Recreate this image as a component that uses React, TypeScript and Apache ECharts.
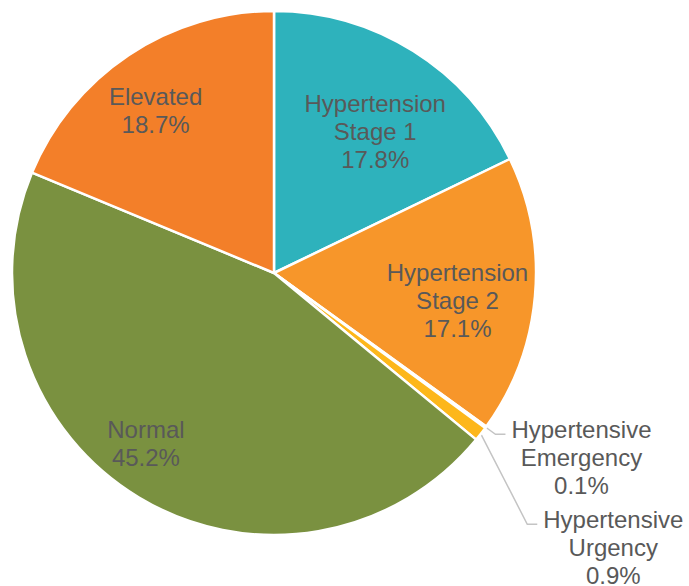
import React, { useEffect, useRef } from "react";
import * as echarts from "echarts";

const categories = [
  "Hypertension Stage 1",
  "Hypertension Stage 2",
  "Hypertensive Emergency",
  "Hypertensive Urgency",
  "Normal",
  "Elevated",
];
const labelLines = [
  ["Hypertension", "Stage 1"],
  ["Hypertension", "Stage 2"],
  ["Hypertensive", "Emergency"],
  ["Hypertensive", "Urgency"],
  ["Normal"],
  ["Elevated"],
];
const percents = [17.8, 17.1, 0.1, 0.9, 45.2, 18.7];
const outsideLabels = [false, false, true, true, false, false];

// styling / layout (not data)
const COLORS = ["#2EB2BC", "#F7962A", "#C9D99A", "#FDB71B", "#7A9140", "#F37F29"];
// shift of label (and, for outside labels, of its leader line end)
const LABEL_SHIFT: Record<number, [number, number]> = {
  0: [30, -28],
  1: [50, 16],
  2: [0, 0],
  3: [37, 83],
  4: [-59, 56],
  5: [-44, -51],
};
// extra vertical nudge of outside label text only
const TEXT_NUDGE: Record<number, number> = { 2: -5, 3: -5 };
const TEXT_COLOR = "#595959";
const FONT = "'Liberation Sans', Arial, sans-serif";

export default function App() {
  const ref = useRef<HTMLDivElement>(null);
  useEffect(() => {
    if (!ref.current) return;
    const chart = echarts.init(ref.current, undefined, { renderer: "svg" });
    const data = categories.map((name, i) => {
      const outside = outsideLabels[i];
      const item: any = {
        name,
        value: percents[i],
        itemStyle: { color: COLORS[i] },
      };
      if (outside) {
        item.label = {
          position: "outside",
          width: 142,
          distanceToLabelLine: 5,
          formatter: () =>
            "\n\n" +
            labelLines[i].map((l) => `{a|${l}}`).join("\n") +
            `\n{a|${percents[i].toFixed(1)}%}`,
          rich: {
            a: {
              align: "center",
              color: TEXT_COLOR,
              fontSize: 24,
              fontFamily: FONT,
              lineHeight: 28,
            },
          },
        };
        item.labelLine = { show: true };
      } else {
        item.label = {
          position: "inside",
          formatter: () => labelLines[i].join("\n") + `\n${percents[i].toFixed(1)}%`,
        };
        item.labelLine = { show: false };
      }
      return item;
    });
    chart.setOption({
      animation: false,
      backgroundColor: "#ffffff",
      series: [
        {
          type: "pie",
          center: [274, 273],
          radius: [0, 262],
          startAngle: 90,
          clockwise: true,
          avoidLabelOverlap: false,
          silent: true,
          itemStyle: { borderColor: "#ffffff", borderWidth: 2.5 },
          label: {
            show: true,
            color: TEXT_COLOR,
            fontSize: 24,
            fontFamily: FONT,
            lineHeight: 28,
            align: "center",
            bleedMargin: 0,
          },
          labelLine: {
            show: true,
            length: 12,
            length2: 10,
            lineStyle: { color: "#C4C4C4", width: 1.5 },
          },
          labelLayout: (params: any) => {
            const idx = params.dataIndex;
            const shift = LABEL_SHIFT[idx];
            if (!shift) return {};
            const r = params.labelRect;
            const [dx, dy] = shift;
            if (outsideLabels[idx]) {
              const p = params.labelLinePoints;
              const nudge = TEXT_NUDGE[idx] || 0;
              return {
                x: r.x + dx,
                y: r.y + r.height / 2 + dy + nudge,
                labelLinePoints: p
                  ? [p[0], [p[1][0] + dx, p[1][1] + dy], [p[2][0] + dx, p[2][1] + dy]]
                  : undefined,
              };
            }
            return {
              x: r.x + r.width / 2 + dx,
              y: r.y + r.height / 2 + dy,
            };
          },
          data,
        },
      ],
    });
    return () => chart.dispose();
  }, []);
  return (
    <div
      ref={ref}
      style={{ position: "absolute", left: 0, top: 0, width: 689, height: 586 }}
    />
  );
}
